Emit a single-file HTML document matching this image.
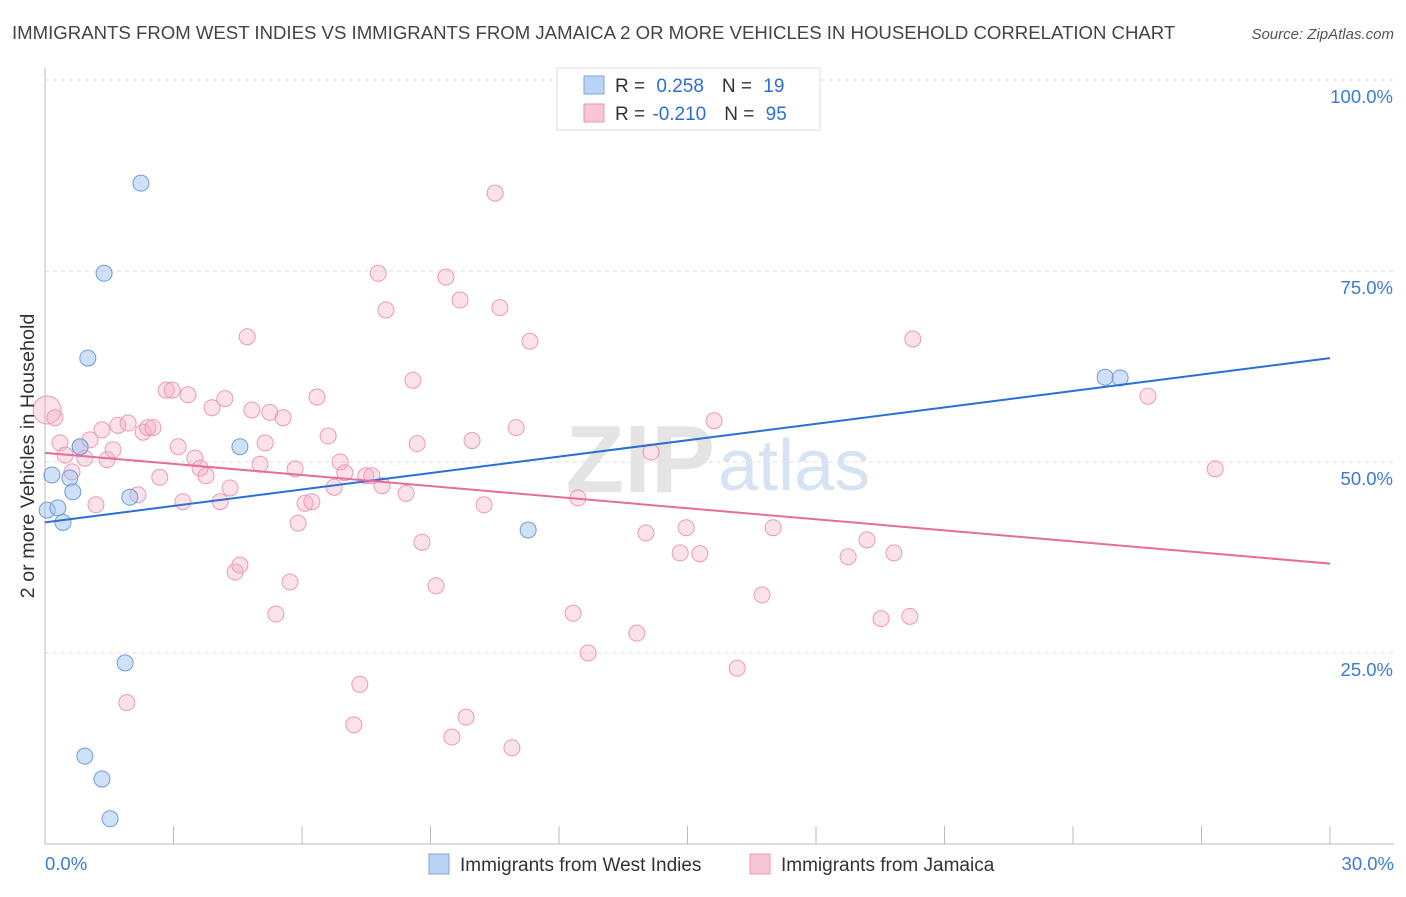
<!DOCTYPE html>
<html><head><meta charset="utf-8">
<style>
body{margin:0;background:#fff;font-family:"Liberation Sans",sans-serif;}
svg text{font-family:"Liberation Sans",sans-serif;}
</style></head><body>
<svg id="chart" width="1406" height="892">
<text x="12" y="39" font-size="18.6" fill="#444">IMMIGRANTS FROM WEST INDIES VS IMMIGRANTS FROM JAMAICA 2 OR MORE VEHICLES IN HOUSEHOLD CORRELATION CHART</text>
<text x="1394" y="39" font-size="15" fill="#555" font-style="italic" text-anchor="end">Source: ZipAtlas.com</text>
<g id="grid"></g>
<text x="715" y="492" font-size="96" fill="#e4e4e4" text-anchor="end" font-family="Liberation Serif" font-weight="bold">ZIP</text>
<text x="718" y="490" font-size="72" fill="#d6e3f3">atlas</text>
<g id="axes"></g>
<g id="marks"></g>
<text transform="translate(34,456) rotate(-90)" font-size="19.8" fill="#333" text-anchor="middle">2 or more Vehicles in Household</text>
<g>
<rect x="557" y="68" width="263" height="62" fill="#fff" stroke="#ddd"/>
<rect x="584" y="76" width="20" height="18" fill="#b9d3f5" stroke="#7ea6dd"/>
<rect x="584" y="104" width="20" height="18" fill="#f9c6d6" stroke="#e597b1"/>
<text x="615" y="92" font-size="19" fill="#333">R = <tspan fill="#2c6fd0" dx="6">0.258</tspan><tspan fill="#333" dx="18">N = </tspan><tspan fill="#2c6fd0" dx="6">19</tspan></text>
<text x="615" y="120" font-size="19" fill="#333">R = <tspan fill="#2c6fd0" dx="2">-0.210</tspan><tspan fill="#333" dx="18">N = </tspan><tspan fill="#2c6fd0" dx="6">95</tspan></text>
</g>
<g>
<rect x="429" y="854" width="20" height="20" fill="#b9d3f5" stroke="#7ea6dd"/>
<text x="460" y="871" font-size="19" fill="#333">Immigrants from West Indies</text>
<rect x="750" y="854" width="20" height="20" fill="#f9c6d6" stroke="#e597b1"/>
<text x="781" y="871" font-size="19" fill="#333">Immigrants from Jamaica</text>
</g>
</svg>
<script>
const blueX=[0.16,0.05,0.30,0.42,0.58,0.65,0.82,1.00,1.38,2.24,1.98,1.87,0.93,1.33,1.52,4.55,11.28,24.75,25.10];
const blueY=[48.3,43.7,44.0,42.1,47.9,46.1,52.0,63.6,74.7,86.5,45.4,23.7,11.5,8.5,3.3,52.0,41.1,61.1,61.0];
const pinkX=[0.05,0.23,0.35,0.47,0.63,0.82,0.93,1.05,1.19,1.33,1.45,1.59,1.70,1.94,1.91,2.17,2.29,2.40,2.52,2.68,2.83,2.97,3.11,3.22,3.34,3.50,3.62,3.76,3.90,4.09,4.20,4.32,4.44,4.55,4.72,4.83,5.02,5.14,5.25,5.39,5.56,5.72,5.84,5.91,6.07,6.23,6.35,6.61,6.75,6.89,7.00,7.21,7.35,7.49,7.63,7.78,7.87,7.96,8.43,8.59,8.69,8.80,9.13,9.36,9.50,9.69,9.83,9.97,10.25,10.51,10.62,10.90,11.00,11.32,12.33,12.44,12.68,13.82,14.03,14.15,14.83,14.97,15.29,15.62,16.16,16.74,17.00,18.75,19.19,19.52,19.82,20.19,20.26,25.75,27.32];
const pinkY=[56.8,55.8,52.5,50.9,48.7,52.0,50.5,52.9,44.4,54.2,50.3,51.6,54.8,55.1,18.5,45.7,53.9,54.5,54.5,48.0,59.4,59.4,52.0,44.8,58.8,50.5,49.2,48.2,57.1,44.8,58.3,46.6,35.6,36.5,66.4,56.8,49.7,52.5,56.5,30.1,55.8,34.3,49.1,42.0,44.6,44.8,58.5,53.4,46.7,50.0,48.6,15.6,20.9,48.2,48.2,74.7,46.9,69.9,45.9,60.7,52.4,39.5,33.8,74.2,14.0,71.2,16.6,52.8,44.4,85.2,70.2,12.6,54.5,65.8,30.2,45.3,25.0,27.6,40.7,51.3,38.1,41.4,38.0,55.4,23.0,32.6,41.4,37.6,39.8,29.5,38.1,29.8,66.1,58.6,49.1];
const blueTrend=[42.1,63.6];
const pinkTrend=[51.2,36.7];
const yTicks=[25,50,75,100];
const yTickLabels=["25.0%","50.0%","75.0%","100.0%"];
const xTicks=[0,3,6,9,12,15,18,21,24,27,30];

const NS="http://www.w3.org/2000/svg";
const X=v=>45+v/30*1285;
const Y=v=>844-v/25*191;
function mk(tag,attrs,parent){const e=document.createElementNS(NS,tag);for(const k in attrs)e.setAttribute(k,attrs[k]);parent.appendChild(e);return e;}
const grid=document.getElementById('grid'),axes=document.getElementById('axes'),marks=document.getElementById('marks');
yTicks.forEach((t,i)=>{
  const l=mk('line',{x1:45,x2:1394,y1:Y(t),y2:Y(t),stroke:'#ddd','stroke-dasharray':'4,4'},grid);
  
  
  const tx=mk('text',{x:1393,y:Y(t)+23,'font-size':18.5,fill:'#3b7ad6','text-anchor':'end'},axes);
  tx.textContent=yTickLabels[i];
  
  
});
const ax=mk('line',{x1:45,x2:1394,y1:844,y2:844,stroke:'#bbb'},axes);


const ay=mk('line',{x1:45,x2:45,y1:68,y2:844,stroke:'#bbb'},axes);


xTicks.forEach(t=>{
  const l=mk('line',{x1:X(t),x2:X(t),y1:826,y2:844,stroke:'#bbb'},axes);
  
  
});
const xl0=mk('text',{x:45,y:870,'font-size':18.5,fill:'#3b7ad6'},axes);xl0.textContent='0.0%';


const xl1=mk('text',{x:1394,y:870,'font-size':18.5,fill:'#3b7ad6','text-anchor':'end'},axes);xl1.textContent='30.0%';



pinkX.forEach((x,i)=>{
  const c=mk('circle',{cx:X(x),cy:Y(pinkY[i]),r:i===0?14:8,fill:'rgba(244,170,195,0.35)',stroke:'#e99ab6','stroke-width':1},marks);
  
  
});
blueX.forEach((x,i)=>{
  const c=mk('circle',{cx:X(x),cy:Y(blueY[i]),r:8,fill:'rgba(160,195,240,0.5)',stroke:'#6f9bd8','stroke-width':1},marks);
  
  
});
const bl=mk('line',{x1:X(0),y1:Y(blueTrend[0]),x2:X(30),y2:Y(blueTrend[1]),stroke:'#2a6fd6','stroke-width':2},marks);


const pl=mk('line',{x1:X(0),y1:Y(pinkTrend[0]),x2:X(30),y2:Y(pinkTrend[1]),stroke:'#e56d98','stroke-width':2},marks);


</script>
</body></html>
